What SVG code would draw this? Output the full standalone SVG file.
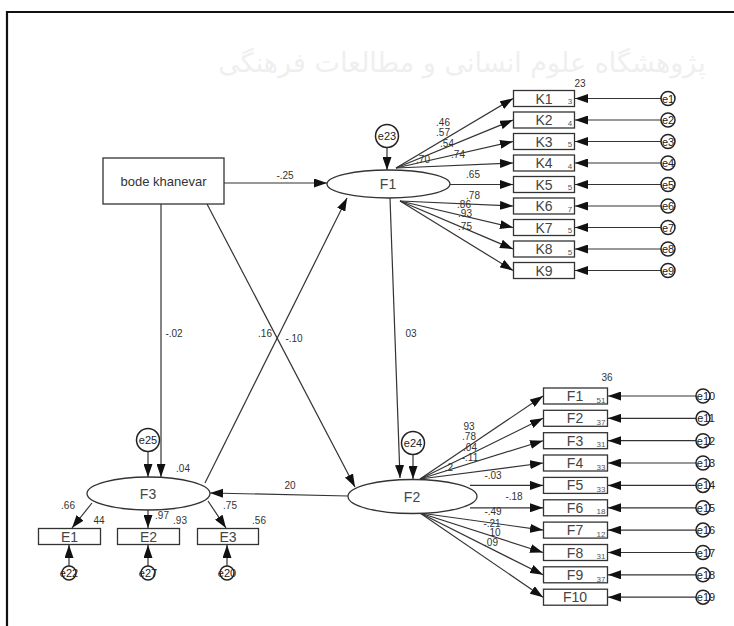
<svg xmlns="http://www.w3.org/2000/svg" width="734" height="626" viewBox="0 0 734 626">
<style>
text{font-family:"Liberation Sans",Arial,sans-serif;fill:#333}
.lbl{font-size:10px;text-anchor:middle}
.tiny{font-size:8px;text-anchor:middle;fill:#555}
.nt{font-size:14px;text-anchor:middle;fill:#444}
.box{fill:#fff;stroke:#333;stroke-width:1.3}
.ell{fill:#fff;stroke:#333;stroke-width:1.3}
.err{fill:#fff;stroke:#222;stroke-width:1.5}
.et{font-size:11px;text-anchor:middle;fill:#222}
.c{stroke:#333;stroke-width:1.2;fill:none;marker-end:url(#ah)}
.wm{font-family:"DejaVu Sans",sans-serif;fill:#efefef;text-anchor:middle}
</style>
<defs>
<marker id="ah" markerUnits="userSpaceOnUse" markerWidth="13" markerHeight="9" refX="13" refY="4.5" orient="auto">
<path d="M0,0 L13,4.5 L0,9 z" fill="#111"/>
</marker>
</defs>
<rect width="734" height="626" fill="#fff"/>
<text class="wm" x="462" y="72" font-size="27">پژوهشگاه علوم انسانی و مطالعات فرهنگی</text>
<path d="M7,626 V12 H734" fill="none" stroke="#111" stroke-width="2.2"/>

<g id="connectors">
<line class="c" x1="224" y1="183" x2="327" y2="183"/>
<line class="c" x1="161" y1="204" x2="161" y2="477"/>
<line class="c" x1="207" y1="204" x2="355" y2="487"/>
<line class="c" x1="205" y1="483" x2="347" y2="198"/>
<line class="c" x1="390" y1="198" x2="400" y2="478"/>
<line class="c" x1="348" y1="496" x2="210" y2="493"/>
<line class="c" x1="387" y1="148" x2="387" y2="170"/>
<line class="c" x1="413" y1="455" x2="413" y2="479"/>
<line class="c" x1="148" y1="452" x2="148" y2="477"/>
<line class="c" x1="396" y1="168" x2="513" y2="98.5"/>
<line class="c" x1="396" y1="168" x2="513" y2="120"/>
<line class="c" x1="396" y1="168" x2="513" y2="141.5"/>
<line class="c" x1="396" y1="168" x2="513" y2="163"/>
<line class="c" x1="450" y1="184.5" x2="513" y2="184.5"/>
<line class="c" x1="400" y1="201" x2="513" y2="206"/>
<line class="c" x1="400" y1="201" x2="513" y2="227.5"/>
<line class="c" x1="400" y1="201" x2="513" y2="249"/>
<line class="c" x1="400" y1="201" x2="513" y2="270.5"/>
<line class="c" x1="661" y1="98.5" x2="575" y2="98.5"/>
<line class="c" x1="661" y1="120" x2="575" y2="120"/>
<line class="c" x1="661" y1="141.5" x2="575" y2="141.5"/>
<line class="c" x1="661" y1="163" x2="575" y2="163"/>
<line class="c" x1="661" y1="184.5" x2="575" y2="184.5"/>
<line class="c" x1="661" y1="206" x2="575" y2="206"/>
<line class="c" x1="661" y1="227.5" x2="575" y2="227.5"/>
<line class="c" x1="661" y1="249" x2="575" y2="249"/>
<line class="c" x1="661" y1="270.5" x2="575" y2="270.5"/>
<line class="c" x1="420" y1="479" x2="543" y2="396"/>
<line class="c" x1="420" y1="479" x2="543" y2="418.3"/>
<line class="c" x1="420" y1="479" x2="543" y2="440.7"/>
<line class="c" x1="420" y1="479" x2="543" y2="463"/>
<line class="c" x1="470" y1="485.4" x2="543" y2="485.4"/>
<line class="c" x1="470" y1="507.8" x2="543" y2="507.8"/>
<line class="c" x1="420" y1="513" x2="543" y2="530.1"/>
<line class="c" x1="420" y1="513" x2="543" y2="552.5"/>
<line class="c" x1="420" y1="513" x2="543" y2="574.8"/>
<line class="c" x1="420" y1="513" x2="543" y2="597.2"/>
<line class="c" x1="696" y1="396" x2="608" y2="396"/>
<line class="c" x1="696" y1="418.3" x2="608" y2="418.3"/>
<line class="c" x1="696" y1="440.7" x2="608" y2="440.7"/>
<line class="c" x1="696" y1="463" x2="608" y2="463"/>
<line class="c" x1="696" y1="485.4" x2="608" y2="485.4"/>
<line class="c" x1="696" y1="507.8" x2="608" y2="507.8"/>
<line class="c" x1="696" y1="530.1" x2="608" y2="530.1"/>
<line class="c" x1="696" y1="552.5" x2="608" y2="552.5"/>
<line class="c" x1="696" y1="574.8" x2="608" y2="574.8"/>
<line class="c" x1="696" y1="597.2" x2="608" y2="597.2"/>
<line class="c" x1="92" y1="503" x2="72" y2="528"/>
<line class="c" x1="148" y1="510" x2="148" y2="528"/>
<line class="c" x1="208" y1="501" x2="226" y2="528"/>
<line class="c" x1="69" y1="566" x2="69" y2="545"/>
<line class="c" x1="148" y1="566" x2="148" y2="545"/>
<line class="c" x1="227" y1="566" x2="227" y2="545"/>
</g>

<g id="labels">
<text class="lbl" x="285" y="179">-.25</text>
<text class="lbl" x="174" y="337">-.02</text>
<text class="lbl" x="265" y="337">.16</text>
<text class="lbl" x="294" y="342">-.10</text>
<text class="lbl" x="411" y="337">03</text>
<text class="lbl" x="443" y="126">.46</text>
<text class="lbl" x="443" y="136">.57</text>
<text class="lbl" x="447" y="147">.54</text>
<text class="lbl" x="458" y="158">.74</text>
<text class="lbl" x="423" y="163">.70</text>
<text class="lbl" x="473" y="178">.65</text>
<text class="lbl" x="473" y="199">.78</text>
<text class="lbl" x="464" y="208">.86</text>
<text class="lbl" x="465" y="217">.93</text>
<text class="lbl" x="465" y="230">.75</text>
<text class="lbl" x="580" y="87">23</text>
<text class="lbl" x="469" y="430">93</text>
<text class="lbl" x="469" y="440">.78</text>
<text class="lbl" x="470" y="451">.04</text>
<text class="lbl" x="470" y="461">-.11</text>
<text class="lbl" x="449" y="471">.2</text>
<text class="lbl" x="493" y="479">-.03</text>
<text class="lbl" x="514" y="500">-.18</text>
<text class="lbl" x="493" y="515">-.49</text>
<text class="lbl" x="492" y="527">-.21</text>
<text class="lbl" x="495" y="536">10</text>
<text class="lbl" x="491" y="546">.09</text>
<text class="lbl" x="607" y="381">36</text>
<text class="lbl" x="183" y="472">.04</text>
<text class="lbl" x="68" y="509">.66</text>
<text class="lbl" x="99" y="524">44</text>
<text class="lbl" x="162" y="519">.97</text>
<text class="lbl" x="180" y="524">.93</text>
<text class="lbl" x="230" y="509">.75</text>
<text class="lbl" x="259" y="524">.56</text>
<text class="lbl" x="290" y="489">20</text>
</g>

<g id="bode"><rect class="box" x="103" y="158" width="121" height="46"/><text x="163.5" y="186" font-size="13" text-anchor="middle" fill="#333">bode khanevar</text></g>
<g id="F1"><ellipse class="ell" cx="388.5" cy="184" rx="61.5" ry="14"/><text class="nt" x="388" y="189">F1</text></g>
<g id="F2"><ellipse class="ell" cx="412.5" cy="496.5" rx="64.5" ry="17"/><text class="nt" x="412" y="502">F2</text></g>
<g id="F3"><ellipse class="ell" cx="148.5" cy="493.5" rx="61.5" ry="16.5"/><text class="nt" x="148" y="499">F3</text></g>
<g id="e23"><circle class="err" cx="387" cy="136" r="11.5"/><text class="et" x="387" y="140">e23</text></g>
<g id="e24"><circle class="err" cx="413" cy="443" r="11.5"/><text class="et" x="413" y="447">e24</text></g>
<g id="e25"><circle class="err" cx="148" cy="440" r="11.5"/><text class="et" x="148" y="444">e25</text></g>

<g id="K1"><rect class="box" x="513.5" y="90.5" width="61" height="16"/><text class="nt" x="544" y="103.5">K1</text><text class="tiny" x="570" y="104">3</text></g>
<g id="K2"><rect class="box" x="513.5" y="112" width="61" height="16"/><text class="nt" x="544" y="125">K2</text><text class="tiny" x="570" y="126">4</text></g>
<g id="K3"><rect class="box" x="513.5" y="133.5" width="61" height="16"/><text class="nt" x="544" y="146.5">K3</text><text class="tiny" x="570" y="147">5</text></g>
<g id="K4"><rect class="box" x="513.5" y="155" width="61" height="16"/><text class="nt" x="544" y="168">K4</text><text class="tiny" x="570" y="169">4</text></g>
<g id="K5"><rect class="box" x="513.5" y="176.5" width="61" height="16"/><text class="nt" x="544" y="189.5">K5</text><text class="tiny" x="570" y="190">5</text></g>
<g id="K6"><rect class="box" x="513.5" y="198" width="61" height="16"/><text class="nt" x="544" y="211">K6</text><text class="tiny" x="570" y="212">7</text></g>
<g id="K7"><rect class="box" x="513.5" y="219.5" width="61" height="16"/><text class="nt" x="544" y="232.5">K7</text><text class="tiny" x="570" y="233">5</text></g>
<g id="K8"><rect class="box" x="513.5" y="241" width="61" height="16"/><text class="nt" x="544" y="254">K8</text><text class="tiny" x="570" y="255">5</text></g>
<g id="K9"><rect class="box" x="513.5" y="262.5" width="61" height="16"/><text class="nt" x="544" y="275.5">K9</text></g>

<g id="e1"><circle class="err" cx="668" cy="98.5" r="7"/><text class="et" x="668" y="102.5">e1</text></g>
<g id="e2"><circle class="err" cx="668" cy="120" r="7"/><text class="et" x="668" y="124">e2</text></g>
<g id="e3"><circle class="err" cx="668" cy="141.5" r="7"/><text class="et" x="668" y="145.5">e3</text></g>
<g id="e4"><circle class="err" cx="668" cy="163" r="7"/><text class="et" x="668" y="167">e4</text></g>
<g id="e5"><circle class="err" cx="668" cy="184.5" r="7"/><text class="et" x="668" y="188.5">e5</text></g>
<g id="e6"><circle class="err" cx="668" cy="206" r="7"/><text class="et" x="668" y="210">e6</text></g>
<g id="e7"><circle class="err" cx="668" cy="227.5" r="7"/><text class="et" x="668" y="231.5">e7</text></g>
<g id="e8"><circle class="err" cx="668" cy="249" r="7"/><text class="et" x="668" y="253">e8</text></g>
<g id="e9"><circle class="err" cx="668" cy="270.5" r="7"/><text class="et" x="668" y="274.5">e9</text></g>

<g id="Fb1"><rect class="box" x="543.5" y="388" width="64" height="16"/><text class="nt" x="575" y="401">F1</text><text class="tiny" x="601" y="403">51</text></g>
<g id="Fb2"><rect class="box" x="543.5" y="410.3" width="64" height="16"/><text class="nt" x="575" y="423.3">F2</text><text class="tiny" x="601" y="425">37</text></g>
<g id="Fb3"><rect class="box" x="543.5" y="432.7" width="64" height="16"/><text class="nt" x="575" y="445.7">F3</text><text class="tiny" x="601" y="447">31</text></g>
<g id="Fb4"><rect class="box" x="543.5" y="455" width="64" height="16"/><text class="nt" x="575" y="468">F4</text><text class="tiny" x="601" y="470">33</text></g>
<g id="Fb5"><rect class="box" x="543.5" y="477.4" width="64" height="16"/><text class="nt" x="575" y="490.4">F5</text><text class="tiny" x="601" y="492">33</text></g>
<g id="Fb6"><rect class="box" x="543.5" y="499.8" width="64" height="16"/><text class="nt" x="575" y="512.8">F6</text><text class="tiny" x="601" y="514">18</text></g>
<g id="Fb7"><rect class="box" x="543.5" y="522.1" width="64" height="16"/><text class="nt" x="575" y="535.1">F7</text><text class="tiny" x="601" y="537">12</text></g>
<g id="Fb8"><rect class="box" x="543.5" y="544.5" width="64" height="16"/><text class="nt" x="575" y="557.5">F8</text><text class="tiny" x="601" y="559">31</text></g>
<g id="Fb9"><rect class="box" x="543.5" y="566.8" width="64" height="16"/><text class="nt" x="575" y="579.8">F9</text><text class="tiny" x="601" y="582">37</text></g>
<g id="Fb10"><rect class="box" x="543.5" y="589.2" width="64" height="16"/><text class="nt" x="575" y="602.2">F10</text></g>

<g id="e10"><circle class="err" cx="703" cy="396" r="7"/><text class="et" x="706" y="400">e10</text></g>
<g id="e11"><circle class="err" cx="703" cy="418.3" r="7"/><text class="et" x="706" y="422.3">e11</text></g>
<g id="e12"><circle class="err" cx="703" cy="440.7" r="7"/><text class="et" x="706" y="444.7">e12</text></g>
<g id="e13"><circle class="err" cx="703" cy="463" r="7"/><text class="et" x="706" y="467">e13</text></g>
<g id="e14"><circle class="err" cx="703" cy="485.4" r="7"/><text class="et" x="706" y="489.4">e14</text></g>
<g id="e15"><circle class="err" cx="703" cy="507.8" r="7"/><text class="et" x="706" y="511.8">e15</text></g>
<g id="e16"><circle class="err" cx="703" cy="530.1" r="7"/><text class="et" x="706" y="534.1">e16</text></g>
<g id="e17"><circle class="err" cx="703" cy="552.5" r="7"/><text class="et" x="706" y="556.5">e17</text></g>
<g id="e18"><circle class="err" cx="703" cy="574.8" r="7"/><text class="et" x="706" y="578.8">e18</text></g>
<g id="e19"><circle class="err" cx="703" cy="597.2" r="7"/><text class="et" x="706" y="601.2">e19</text></g>

<g id="E1"><rect class="box" x="38.5" y="528.5" width="62" height="16"/><text class="nt" x="69.5" y="541.5">E1</text></g>
<g id="E2"><rect class="box" x="117.5" y="528.5" width="62" height="16"/><text class="nt" x="148.5" y="541.5">E2</text></g>
<g id="E3"><rect class="box" x="197.5" y="528.5" width="61" height="16"/><text class="nt" x="228" y="541.5">E3</text></g>

<g id="e22"><circle class="err" cx="69" cy="573" r="7"/><text class="et" x="69" y="577">e22</text></g>
<g id="e27"><circle class="err" cx="148" cy="573" r="7"/><text class="et" x="148" y="577">e27</text></g>
<g id="e20"><circle class="err" cx="227" cy="573" r="7"/><text class="et" x="227" y="577">e20</text></g>
</svg>
